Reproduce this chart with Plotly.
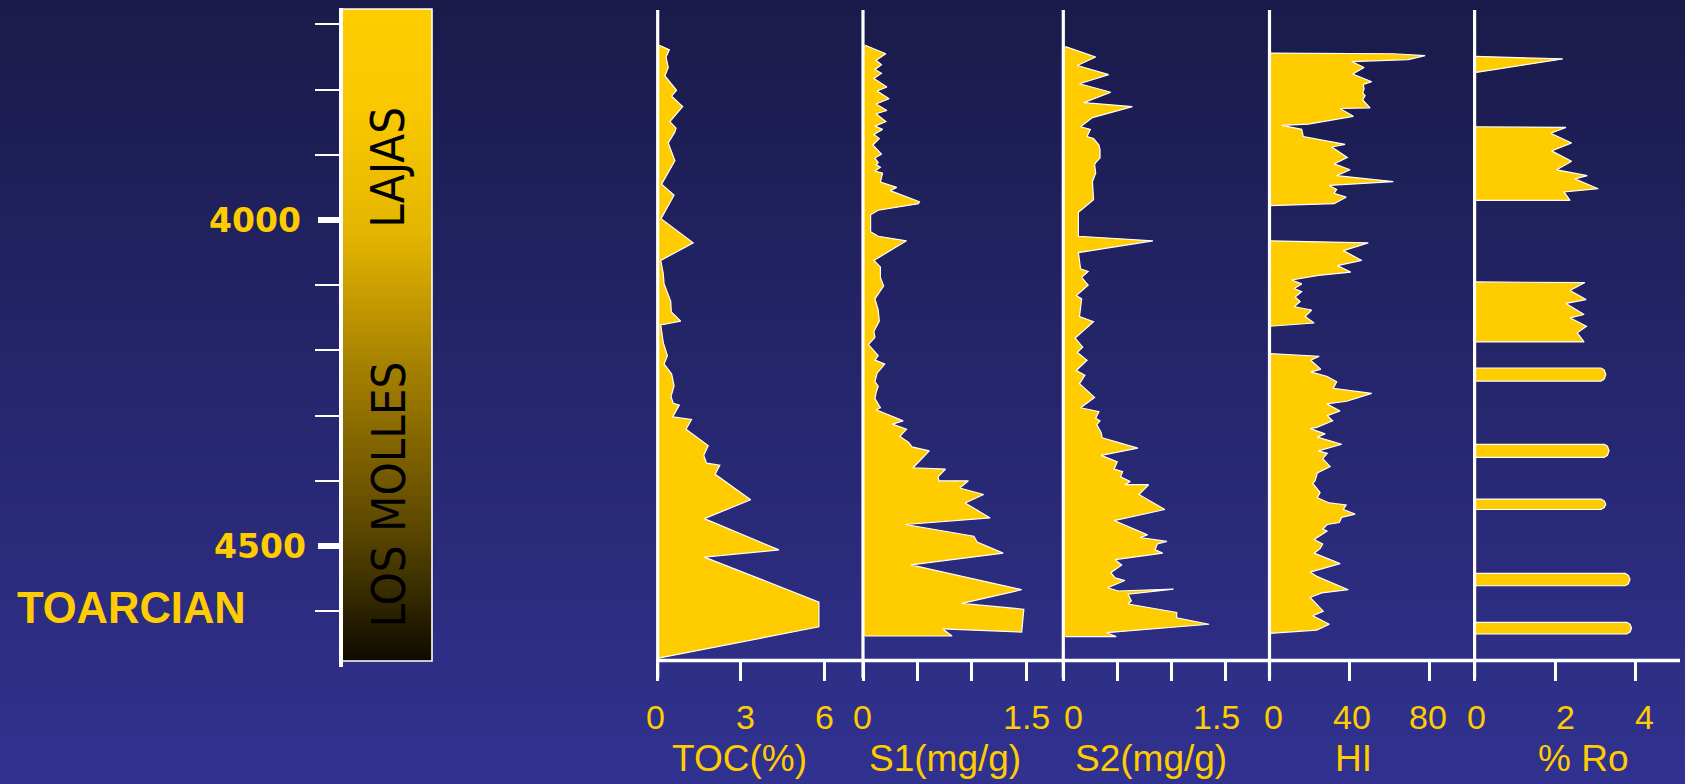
import plotly.graph_objects as go

# ---------------- data ----------------
toc_depth = [3732, 3739, 3750, 3766, 3779, 3801, 3810, 3826, 3849, 3859, 3865, 3882, 3909, 3945,
             3962, 3998, 4035, 4062, 4082, 4098, 4125, 4141, 4155, 4161, 4188, 4208, 4221, 4236,
             4254, 4271, 4281, 4284, 4302, 4306, 4321, 4338, 4346, 4361, 4373, 4376, 4390, 4429,
             4458, 4506, 4517, 4586, 4624, 4672]
toc_value = [0.06, 0.42, 0.30, 0.38, 0.26, 0.68, 0.50, 0.90, 0.44, 0.66, 0.62, 0.38, 0.62, 0.14,
             0.59, 0.12, 1.28, 0.11, 0.20, 0.23, 0.47, 0.49, 0.83, 0.11, 0.20, 0.35, 0.23, 0.50,
             0.59, 0.48, 0.56, 0.78, 0.54, 1.22, 1.02, 1.58, 1.82, 1.66, 1.76, 2.24, 2.07, 3.35,
             1.68, 4.37, 1.68, 5.81, 5.81, 0.02]

s1_depth = [3732, 3745, 3755, 3762, 3769, 3775, 3783, 3796, 3802, 3814, 3822, 3832, 3837, 3849,
            3856, 3861, 3869, 3875, 3885, 3899, 3905, 3912, 3915, 3919, 3925, 3928, 3942, 3950,
            3955, 3972, 3975, 3980, 3985, 3992, 4018, 4025, 4032, 4062, 4072, 4088, 4101, 4121,
            4138, 4155, 4161, 4171, 4180, 4191, 4208, 4215, 4221, 4235, 4248, 4255, 4265, 4274,
            4288, 4291, 4308, 4313, 4321, 4332, 4341, 4348, 4354, 4380, 4382, 4394, 4400, 4400,
            4411, 4421, 4434, 4457, 4467, 4485, 4494, 4511, 4529, 4567, 4588, 4597, 4632, 4627,
            4638, 4638]
s1_value = [0.02, 0.21, 0.12, 0.17, 0.11, 0.17, 0.10, 0.22, 0.13, 0.24, 0.12, 0.22, 0.12, 0.21,
            0.11, 0.18, 0.10, 0.15, 0.09, 0.17, 0.11, 0.14, 0.12, 0.16, 0.11, 0.18, 0.16, 0.31,
            0.25, 0.52, 0.51, 0.31, 0.14, 0.07, 0.07, 0.14, 0.40, 0.10, 0.16, 0.16, 0.19, 0.11,
            0.14, 0.15, 0.13, 0.10, 0.11, 0.05, 0.14, 0.11, 0.20, 0.13, 0.11, 0.14, 0.12, 0.11,
            0.16, 0.12, 0.37, 0.27, 0.40, 0.34, 0.42, 0.45, 0.61, 0.46, 0.76, 0.69, 0.70, 0.97,
            0.89, 1.11, 0.94, 1.17, 0.39, 1.02, 1.05, 1.29, 0.44, 1.46, 0.91, 1.48, 1.46, 0.73,
            0.82, 0.02]

s2_depth = [3734, 3750, 3763, 3777, 3791, 3804, 3820, 3826, 3843, 3857, 3861, 3872, 3875, 3885,
            3892, 3905, 3912, 3915, 3928, 3941, 3969, 3980, 3988, 4025, 4032, 4050, 4075, 4079,
            4088, 4100, 4116, 4121, 4148, 4156, 4181, 4195, 4203, 4215, 4231, 4238, 4251, 4272,
            4288, 4294, 4304, 4308, 4314, 4326, 4334, 4350, 4361, 4371, 4382, 4386, 4394, 4401,
            4406, 4406, 4421, 4444, 4461, 4483, 4487, 4493, 4497, 4506, 4511, 4521, 4529, 4541,
            4549, 4553, 4564, 4569, 4566, 4574, 4584, 4589, 4602, 4610, 4620, 4633, 4639, 4639]
s2_value = [0.02, 0.30, 0.13, 0.42, 0.15, 0.44, 0.19, 0.64, 0.27, 0.16, 0.25, 0.22, 0.28, 0.33,
            0.34, 0.34, 0.30, 0.29, 0.30, 0.27, 0.28, 0.20, 0.14, 0.14, 0.83, 0.14, 0.16, 0.23,
            0.17, 0.23, 0.12, 0.17, 0.15, 0.28, 0.11, 0.18, 0.13, 0.22, 0.12, 0.20, 0.15, 0.29,
            0.16, 0.33, 0.30, 0.34, 0.31, 0.35, 0.36, 0.69, 0.35, 0.50, 0.47, 0.55, 0.53, 0.62,
            0.57, 0.79, 0.70, 0.94, 0.47, 0.78, 0.71, 0.96, 0.87, 0.85, 0.92, 0.48, 0.54, 0.44,
            0.48, 0.57, 0.41, 0.51, 1.02, 0.60, 0.63, 0.60, 1.05, 1.05, 1.35, 0.40, 0.49, 0.02]

# None separates the sampled intervals
hi_depth = [3744, 3745, 3748, 3754, 3757, 3766, 3776, 3788, 3792, 3799, 3805, 3809, 3816, 3828,
            3829, 3841, 3853, 3855, 3861, 3872, 3884, 3888, 3904, 3914, 3923, 3932, 3941, 3946,
            3947, 3953, 3959, 3965, 3975, 3978, None,
            4032, 4035, 4047, 4062, 4070, 4080, 4085, 4092, 4098, 4105, 4110, 4118, 4125, 4133,
            4138, 4148, 4158, 4163, None,
            4205, 4209, 4215, 4229, 4233, 4240, 4248, 4258, 4266, 4278, 4282, 4293, 4300, 4308,
            4318, 4320, 4328, 4333, 4344, 4354, 4358, 4366, 4378, 4388, 4400, 4404, 4418, 4426,
            4434, 4437, 4444, 4451, 4456, 4464, 4467, 4474, 4477, 4490, 4497, 4504, 4511, 4527,
            4540, 4547, 4567, 4572, 4579, 4600, 4607, 4620, 4629, 4634]
hi_value = [0, 61.9, 77.8, 69.4, 41.1, 47.3, 41.6, 51.1, 46.9, 47.3, 46.6, 47.8, 46.6, 50.3,
            35.3, 41.9, 19.4, 6.1, 16.1, 16.9, 37.8, 31.1, 38.9, 32.3, 40.3, 33.6, 61.9, 36.9,
            29.9, 33.6, 32.3, 38.3, 32.3, 0, None,
            0, 49.4, 36.9, 46.1, 33.9, 40.6, 24.4, 11.1, 16.1, 12.3, 16.1, 12.8, 15.3, 12.4,
            21.1, 17.8, 22.3, 0, None,
            0, 24.9, 20.6, 25.6, 20.6, 28.9, 33.6, 31.9, 51.1, 38.6, 28.6, 35.3, 28.9, 31.6,
            23.6, 20.3, 27.8, 23.9, 36.1, 24.4, 28.9, 26.6, 30.3, 23.9, 22.8, 21.6, 25.3, 23.9,
            29.9, 38.3, 36.9, 42.8, 36.1, 34.9, 28.9, 26.6, 28.9, 22.3, 26.6, 25.3, 22.3, 35.3,
            20.3, 23.9, 39.4, 26.1, 20.3, 26.9, 21.6, 29.9, 23.6, 0]

ro_depth = [3749, 3753, 3774, None,
            3857, 3858, 3867, 3882, 3894, 3910, 3923, 3932, 3937, 3952, 3957, 3970, 3970, None,
            4095, 4096, 4108, 4122, 4128, 4145, 4150, 4163, 4173, 4187, 4187, None,
            4227, 4227, 4230, 4237, 4244, 4247, 4247, None,
            4344, 4344, 4347, 4354, 4361, 4364, 4364, None,
            4428, 4428, 4431, 4436, 4441, 4444, 4444, None,
            4542, 4542, 4545, 4551, 4558, 4561, 4561, None,
            4617, 4617, 4620, 4626, 4632, 4635, 4635]
ro_value = [0, 2.19, 0, None,
            0, 2.27, 1.89, 2.41, 1.91, 2.41, 2.04, 2.80, 2.49, 3.07, 2.22, 2.37, 0, None,
            0, 2.74, 2.37, 2.77, 2.27, 2.72, 2.37, 2.78, 2.55, 2.72, 0, None,
            0, 3.14, 3.22, 3.26, 3.22, 3.14, 0, None,
            0, 3.22, 3.30, 3.34, 3.30, 3.22, 0, None,
            0, 3.14, 3.22, 3.26, 3.22, 3.14, 0, None,
            0, 3.74, 3.82, 3.86, 3.82, 3.74, 0, None,
            0, 3.78, 3.86, 3.90, 3.86, 3.78, 0]

track_titles = ["TOC(%)", "S1(mg/g)", "S2(mg/g)", "HI", "% Ro"]
toc_ticks, toc_ticklabels = [0, 3, 6], ["0", "3", "6"]
s1_ticks, s1_ticklabels = [0, 0.5, 1.0, 1.5], ["0", "", "", "1.5"]
s2_ticks, s2_ticklabels = [0, 0.5, 1.0, 1.5], ["0", "", "", "1.5"]
hi_ticks, hi_ticklabels = [0, 40, 80], ["0", "40", "80"]
ro_ticks, ro_ticklabels = [0, 2, 4], ["0", "2", "4"]

depth_major_ticks = [4000, 4500]
depth_major_labels = ["4000", "4500"]
depth_minor_ticks = [3700, 3800, 3900, 4100, 4200, 4300, 4400, 4600]
formation_names = ["LAJAS", "LOS MOLLES"]
formation_label_depth = [3920, 4421]
stage_name = "TOARCIAN"

# ---------------- layout constants ----------------
W, H = 1685, 784
YELLOW = "#FFCC00"
REF_DEPTH, REF_PX, PX_PER_M = 4000.0, 220.0, 0.652
AXIS_PX = 660.5
PAD = 8


def px_to_depth(py):
    return REF_DEPTH + (py - REF_PX) / PX_PER_M


def pfx(px):
    return px / W


def pfy(py):
    return 1 - py / H


tracks = [
    dict(d=toc_depth, v=toc_value, zero=657.7, scale=27.75, ticks=toc_ticks, labels=toc_ticklabels,
         shifts=[-2, 5, 0], title_px=739),
    dict(d=s1_depth, v=s1_value, zero=863.0, scale=108.67, ticks=s1_ticks, labels=s1_ticklabels,
         shifts=[-1, 0, 0, 0], title_px=945),
    dict(d=s2_depth, v=s2_value, zero=1063.3, scale=108.0, ticks=s2_ticks, labels=s2_ticklabels,
         shifts=[10, 0, 0, -9], title_px=1151),
    dict(d=hi_depth, v=hi_value, zero=1269.5, scale=2.0, ticks=hi_ticks, labels=hi_ticklabels,
         shifts=[4, 2, -2], title_px=1353),
    dict(d=ro_depth, v=ro_value, zero=1474.6, scale=40.25, ticks=ro_ticks, labels=ro_ticklabels,
         shifts=[2, 10, 9], title_px=1583),
]
END_PX = 1680


def segments(depths, values):
    sd, sv = [], []
    for d, v in zip(depths, values):
        if d is None or v is None:
            if sd:
                yield sd, sv
            sd, sv = [], []
        else:
            sd.append(d)
            sv.append(v)
    if sd:
        yield sd, sv


fig = go.Figure()
layout = dict(
    width=W, height=H, autosize=False,
    margin=dict(l=0, r=0, t=0, b=0, pad=0),
    paper_bgcolor="#26276a", plot_bgcolor="rgba(0,0,0,0)",
    showlegend=False,
    yaxis=dict(domain=[0, 1], range=[px_to_depth(H), px_to_depth(0)], visible=False, fixedrange=True),
)
shapes = []
annotations = []

# background vertical gradient
N_BG = 196
top_c, bot_c = (26, 26, 74), (49, 50, 144)
for k in range(N_BG):
    t = (k + 0.5) / N_BG
    c = tuple(round(top_c[j] + (bot_c[j] - top_c[j]) * t) for j in range(3))
    shapes.append(dict(type="rect", xref="paper", yref="paper", x0=0, x1=1,
                       y0=1 - k / N_BG, y1=1 - (k + 1) / N_BG, line=dict(width=0),
                       fillcolor="rgb(%d,%d,%d)" % c, layer="below"))

label_y = pfy(716.5)
title_y = pfy(758.5)
for i, tr in enumerate(tracks):
    axid = "x" if i == 0 else "x%d" % (i + 1)
    axkey = "xaxis" if i == 0 else "xaxis%d" % (i + 1)
    d0 = tr["zero"] - PAD
    d1 = (tracks[i + 1]["zero"] - PAD) if i + 1 < len(tracks) else END_PX
    layout[axkey] = dict(
        domain=[pfx(d0), pfx(d1)],
        range=[(d0 - tr["zero"]) / tr["scale"], (d1 - tr["zero"]) / tr["scale"]],
        anchor="free", position=pfy(AXIS_PX), showline=False, showgrid=False, zeroline=False,
        ticks="outside", tickmode="array", tickvals=tr["ticks"], ticklen=19, tickwidth=2.5,
        tickcolor="white", showticklabels=False, fixedrange=True,
    )
    for sd, sv in segments(tr["d"], tr["v"]):
        fig.add_trace(go.Scatter(
            x=sv, y=sd, xaxis=axid, yaxis="y", mode="lines", fill="tozerox",
            fillcolor=YELLOW, line=dict(color="white", width=1.2),
            hoverinfo="skip", showlegend=False,
        ))
    # track depth line
    shapes.append(dict(type="line", xref=axid, yref="paper", x0=0, x1=0,
                       y0=pfy(678), y1=pfy(10), line=dict(color="white", width=3.2)))
    for tv, tl, sh in zip(tr["ticks"], tr["labels"], tr["shifts"]):
        if tl:
            annotations.append(dict(
                x=tv, xref=axid, y=label_y, yref="paper", text=tl, showarrow=False,
                xanchor="center", yanchor="middle", xshift=sh,
                font=dict(family="Liberation Sans", size=34, color=YELLOW)))
    annotations.append(dict(
        x=pfx(tr["title_px"]), xref="paper", y=title_y, yref="paper", text=track_titles[i],
        showarrow=False, xanchor="center", yanchor="middle",
        font=dict(family="Liberation Sans", size=37, color=YELLOW)))

# horizontal base line of the tracks
shapes.append(dict(type="line", xref="paper", yref="paper", x0=pfx(tracks[0]["zero"] - 1.5),
                   x1=pfx(END_PX), y0=pfy(AXIS_PX), y1=pfy(AXIS_PX),
                   line=dict(color="white", width=3.5)))

# ---------------- depth ruler and formation column ----------------
BAR_L, BAR_R, BAR_T, BAR_B = 341, 432, 9, 661
RULER_T, RULER_B = 8, 667
layout["yaxis2"] = dict(
    domain=[pfy(RULER_B), pfy(RULER_T)], range=[px_to_depth(RULER_B), px_to_depth(RULER_T)],
    anchor="free", position=pfx(BAR_L), side="left", showline=True, linecolor="white",
    linewidth=3.5, ticks="outside", tickmode="array", tickvals=depth_major_ticks, ticklen=21,
    tickwidth=6, tickcolor="white", showticklabels=False, showgrid=False, zeroline=False,
    fixedrange=True,
    minor=dict(tickmode="array", tickvals=depth_minor_ticks, ticks="outside", ticklen=24,
               tickwidth=1.8, tickcolor="white", showgrid=False),
)
layout["xaxis6"] = dict(domain=[pfx(BAR_L), pfx(BAR_R)], range=[0, 1], anchor="y2",
                        visible=False, fixedrange=True)
NB = 300
edges = [px_to_depth(BAR_T + (BAR_B - BAR_T) * k / NB) for k in range(NB + 1)]
fig.add_trace(go.Heatmap(
    x=[0, 1], y=edges, z=[[k / (NB - 1)] for k in range(NB)], zmin=0, zmax=1,
    colorscale=[[0, "rgb(255,204,0)"], [0.15, "rgb(250,200,0)"], [0.34, "rgb(228,182,0)"],
                [0.55, "rgb(165,128,0)"], [0.82, "rgb(85,66,0)"], [1, "rgb(14,11,0)"]],
    showscale=False, xaxis="x6", yaxis="y2", hoverinfo="skip",
))
shapes.append(dict(type="rect", xref="paper", yref="paper", x0=pfx(BAR_L), x1=pfx(BAR_R),
                   y0=pfy(BAR_B), y1=pfy(BAR_T), line=dict(color="white", width=1.6)))

for val, lab, xr in zip(depth_major_ticks, depth_major_labels, [303, 308]):
    annotations.append(dict(
        x=pfx(xr), xref="paper", y=val, yref="y2", text=lab, showarrow=False,
        xanchor="right", yanchor="middle",
        font=dict(family="DejaVu Sans", size=33, color=YELLOW, weight="bold")))

for name, dep in zip(formation_names, formation_label_depth):
    annotations.append(dict(
        x=pfx(388), xref="paper", y=dep, yref="y2", text=name, showarrow=False,
        textangle=-90, xanchor="center", yanchor="middle",
        font=dict(family="DejaVu Sans Condensed, Roboto Condensed, Liberation Sans Narrow, Roboto",
                  size=47, color="black")))

annotations.append(dict(
    x=pfx(15), xref="paper", y=pfy(607.5), yref="paper", text=stage_name, showarrow=False,
    xanchor="left", yanchor="middle",
    font=dict(family="Liberation Sans", size=43.5, color=YELLOW, weight="bold")))

layout["shapes"] = shapes
layout["annotations"] = annotations
fig.update_layout(**layout)
fig.write_html("out.html", config={"displayModeBar": False})
